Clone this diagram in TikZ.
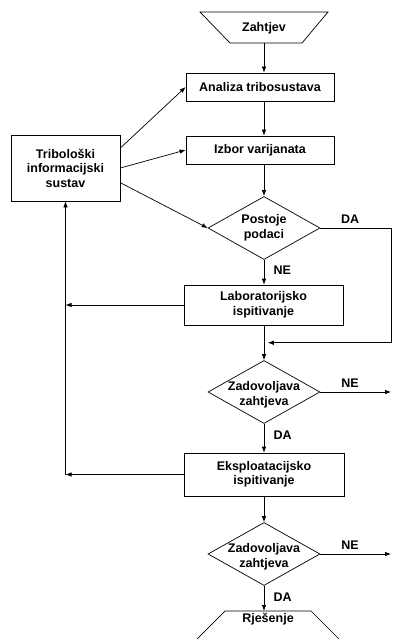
\documentclass[tikz,border=0pt]{standalone}
\usepackage{fontspec}
\setmainfont{Liberation Sans}
\usetikzlibrary{shapes.geometric,arrows.meta,calc}

\begin{document}
\begin{tikzpicture}[x=1pt, y=-1pt,
  font=\fontsize{12.5}{14.5}\selectfont\bfseries,
  line width=0.7pt,
  >={Latex[length=6pt,width=4.5pt]},
  blok/.style={draw, rectangle, align=center, inner sep=0pt},
  odluka/.style={draw, diamond, align=center, aspect=1.8, inner sep=0pt,
    minimum width=112pt, minimum height=63pt}]

\useasboundingbox (0,0) rectangle (393,639);
\clip (0,0) rectangle (393,639);

% pocetak i kraj
\draw (200,12) -- (328,12) -- (302,43) -- (230,43) -- cycle;
\node (zahtjev) at (264,28) {Zahtjev};
\coordinate (zahtjevdno) at (264,43);
\draw (176,660) -- (225,611) -- (311,611) -- (360,660);
\node (rjes) at (268,619) {Rješenje};
\coordinate (rjesvrh) at (264,611);

\node[blok, minimum width=148pt, minimum height=28pt] (analiza) at (260,87) {Analiza tribosustava};
\node[blok, minimum width=148pt, minimum height=28pt] (izbor) at (260,150) {Izbor varijanata};
\node[blok, minimum width=109pt, minimum height=66pt] (tribo) at (65.5,168) {Tribološki\\informacijski\\sustav};
\node[odluka] (postoje) at (264,228) {Postoje\\podaci};
\node[blok, minimum width=159pt, minimum height=40pt] (lab) at (263.5,305) {Laboratorijsko\\ispitivanje};
\node[odluka, label={[align=center, yshift=-3pt]center:Zadovoljava\\zahtjeva}] (zad1) at (264,392) {};
\node[blok, minimum width=160pt, minimum height=43pt] (ekspl) at (264,474.5) {Eksploatacijsko\\ispitivanje};
\node[odluka, label={[align=center, yshift=-3pt]center:Zadovoljava\\zahtjeva}] (zad2) at (264,554) {};

\coordinate (desno) at (391,228);

% glavni tok
\draw[->] (zahtjevdno) -- (zahtjevdno |- analiza.north);
\draw[->] (zahtjevdno |- analiza.south) -- (zahtjevdno |- izbor.north);
\draw[->] (zahtjevdno |- izbor.south) -- (postoje.north);
\draw[->] (postoje.south) -- node[pos=.4, right=6pt] {NE} (postoje.south |- lab.north);
\draw[->] (postoje.east) -- node[pos=.42, above=1pt] {DA} (desno) |- ($(lab.south)!.5!(zad1.north)+(4,0)$);
\draw[->] (lab.south -| zad1.north) -- (zad1.north);
\draw[->] (zad1.east) -- node[pos=.42, above=1pt] {NE} (zad1.east -| desno);
\draw[->] (zad1.south) -- node[pos=.4, right=6pt] {DA} (ekspl.north);
\draw[->] (ekspl.south) -- (zad2.north);
\draw[->] (zad2.east) -- node[pos=.42, above=1pt] {NE} (zad2.east -| desno);
\draw[->] (zad2.south) -- node[pos=.46, right=6pt] {DA} (rjesvrh);

% informacijski sustav
\draw[->] (tribo.20) -- (analiza.west);
\draw[->] (tribo.east) -- (izbor.west);
\draw[->] (tribo.-15) -- (postoje.west);
\draw[->] (lab.west) -- (lab.west -| tribo.south);
\draw[->] (ekspl.west) -- (ekspl.west -| tribo.south);
\draw[->] (ekspl.west -| tribo.south) -- (tribo.south);

\end{tikzpicture}
\end{document}
